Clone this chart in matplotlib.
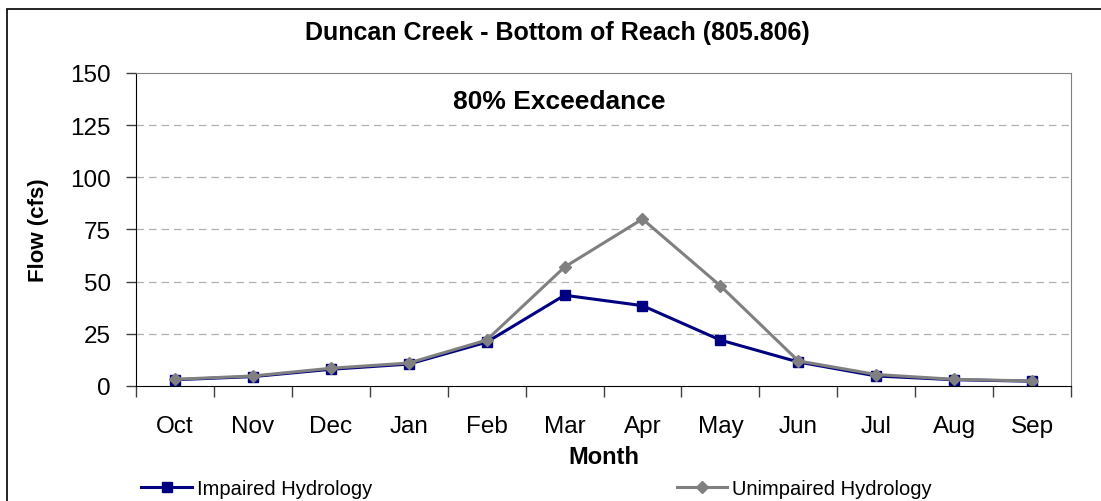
import matplotlib.pyplot as plt
from matplotlib.patches import Rectangle

plt.rcParams['font.family'] = ['Liberation Sans', 'DejaVu Sans']

months = ['Oct', 'Nov', 'Dec', 'Jan', 'Feb', 'Mar', 'Apr', 'May', 'Jun', 'Jul', 'Aug', 'Sep']
impaired = [3.0, 4.5, 8.0, 10.5, 21.0, 43.5, 38.5, 22.0, 11.5, 4.8, 3.0, 2.3]
unimpaired = [3.2, 4.8, 8.5, 11.0, 22.0, 57.0, 80.0, 48.0, 12.0, 5.5, 3.2, 2.4]
yticks = [0, 25, 50, 75, 100, 125, 150]

fig = plt.figure(figsize=(11.01, 5.02), dpi=100)
ax = fig.add_axes([0.1235, 0.2291, 0.8493, 0.6235])

x = list(range(len(months)))
h1, = ax.plot(x, impaired, color='#000080', lw=2.2, marker='s', ms=7, label='Impaired Hydrology')
h2, = ax.plot(x, unimpaired, color='#808080', lw=2.2, marker='D', ms=6, label='Unimpaired Hydrology')

ax.set_xlim(-0.5, 11.5)
ax.set_ylim(0, 150)
ax.set_yticks(yticks)
ax.set_xticks(x)
ax.set_xticklabels(months)
ax.set_xticks([i - 0.5 for i in range(13)], minor=True)
ax.tick_params(axis='x', which='major', length=0, pad=21, labelsize=17.5)
ax.tick_params(axis='x', which='minor', length=8, width=1, color='#404040')
ax.tick_params(axis='y', length=7, width=1, pad=11, labelsize=17.5, color='#404040')

for y in yticks[1:-1]:
    ax.axhline(y, color='#b0b0b0', lw=0.9, ls=(0, (6, 4)), zorder=0)

ax.spines['top'].set_color('#808080')
ax.spines['right'].set_color('#808080')
ax.spines['left'].set_color('#000000')
ax.spines['bottom'].set_color('#000000')

ax.set_xlabel('Month', fontsize=17, fontweight='bold', labelpad=6)
ax.set_ylabel('Flow (cfs)', fontsize=16, fontweight='bold', labelpad=15)

fig.text(0.506, 0.934, 'Duncan Creek - Bottom of Reach (805.806)', ha='center', va='center',
         fontsize=18, fontweight='bold')
fig.text(0.508, 0.797, '80% Exceedance', ha='center', va='center',
         fontsize=19, fontweight='bold')

leg1 = fig.legend(handles=[h1], loc='center left', bbox_to_anchor=(0.112, 0.025), frameon=False,
                  fontsize=14.5, handlelength=2.5, handletextpad=0.25)
leg2 = fig.legend(handles=[h2], loc='center left', bbox_to_anchor=(0.598, 0.025), frameon=False,
                  fontsize=14.5, handlelength=2.5, handletextpad=0.25)

fig.patches.append(Rectangle((7 / 1101, -0.1), 1.2, 1.1 - 10 / 502, transform=fig.transFigure,
                             fill=False, edgecolor='black', lw=1.2, clip_on=False))

fig.savefig('out.png', dpi=100)
